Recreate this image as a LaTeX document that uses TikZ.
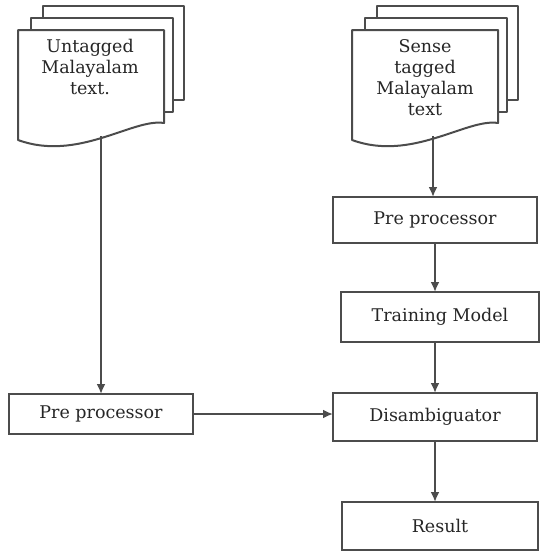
\documentclass[tikz,border=0pt]{standalone}
\usepackage{fontspec}
\setmainfont{DejaVu Serif}
\usetikzlibrary{arrows.meta}

\tikzset{
  line/.style={draw=black!70, line width=2pt},
  procbox/.style={line, fill=white, inner sep=0pt, outer sep=0pt, text=black!85,
    font=\fontsize{17.5}{21}\selectfont},
  doctext/.style={align=center, inner sep=0pt, anchor=north, text=black!85,
    font=\fontsize{17.5}{21}\selectfont},
  flow/.style={line, -{Latex[length=10pt,width=9pt]}},
  multidoc/.pic={
    \draw[line, line join=round] (25,18) -- (25,6) -- (166,6) -- (166,100) -- (155,100);
    \draw[line, line join=round] (13,30) -- (13,18) -- (155,18) -- (155,112) -- (146,112);
    \draw[line, fill=white, line join=round] (0,30) -- (146,30) -- (146,123)
      .. controls (115,118) and (60,162) .. (0,140) -- cycle;
  }
}

\begin{document}
\begin{tikzpicture}[x=1pt, y=-1pt]
    \useasboundingbox (0,0) rectangle (541,552);

    % source documents
    \pic at (18,0) {multidoc};
    \pic at (352,0) {multidoc};
    \node[doctext] (ldoc) at (90,39) {Untagged\\Malayalam\\text.};
    \node[doctext] (rdoc) at (425,39) {Sense\\tagged\\Malayalam\\text};
    \coordinate (ldocend) at (101,136);
    \coordinate (rdocend) at (433,136);

    % processing boxes
    \node[procbox, minimum width=184pt, minimum height=40pt] (ppleft) at (101,414) {Pre processor};
    \node[procbox, minimum width=204pt, minimum height=46pt] (ppright) at (435,220) {Pre processor};
    \node[procbox, minimum width=198pt, minimum height=50pt] (train) at (440,317) {Training Model};
    \node[procbox, minimum width=204pt, minimum height=48pt] (dis) at (435,417) {Disambiguator};
    \node[procbox, minimum width=196pt, minimum height=48pt] (res) at (440,526) {Result};

    \draw[flow] (ldocend) -- (ldocend |- ppleft.north);
    \draw[flow] (rdocend) -- (rdocend |- ppright.north);
    \draw[flow] (ppright.south) -- (ppright.south |- train.north);
    \draw[flow] (dis.north |- train.south) -- (dis.north);
    \draw[flow] (ppleft.east) -- (ppleft.east -| dis.west);
    \draw[flow] (dis.south) -- (dis.south |- res.north);
\end{tikzpicture}
\end{document}
